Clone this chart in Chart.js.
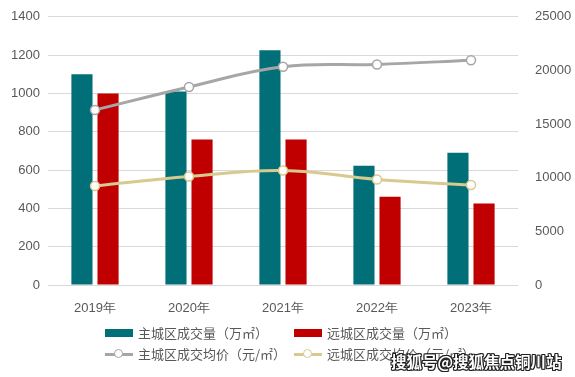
<!DOCTYPE html>
<html>
<head>
<meta charset="utf-8">
<script src="https://cdn.jsdelivr.net/npm/chart.js@4"></script>
<style>
  html,body{margin:0;padding:0;background:#fff;}
  #wrap{position:relative;width:575px;height:377px;font-family:"Microsoft YaHei","Noto Sans CJK SC",sans-serif;overflow:hidden;}
  #c{position:absolute;left:0;top:0;}
  .lg{position:absolute;font-size:13px;color:#595959;white-space:nowrap;line-height:16px;}
  .box{position:absolute;width:28px;height:8px;top:4px;left:0;}
  .ln{position:absolute;width:28px;height:3px;top:7px;left:0;}
  .dot{position:absolute;width:7px;height:7px;border-radius:50%;background:#fff;top:3px;left:9px;border:1.5px solid;}
  .lg span.t{position:absolute;left:33px;top:0;}
  #wm{position:absolute;left:391px;top:350px;font-size:15.5px;font-weight:bold;color:#fff;white-space:nowrap;
      text-shadow:-1px -1px 0 #222,1px -1px 0 #222,-1px 1px 0 #222,1px 1px 0 #222,0 1px 0 #222,0 -1px 0 #222,1px 0 0 #222,-1px 0 0 #222;}
</style>
</head>
<body>
<div id="wrap">
<canvas id="c" width="575" height="377"></canvas>
<div id="legend"></div>
<div id="wm">搜狐号@搜狐焦点铜川站</div>
</div>
<script>
// 数据
const years=['2019年','2020年','2021年','2022年','2023年'];
const mainVol=[1100,1010,1225,622,690];   // 主城区成交量（万㎡）
const farVol=[1000,760,760,461,425];      // 远城区成交量（万㎡）
const mainPrice=[16320,18460,20340,20560,20950]; // 主城区成交均价（元/㎡）
const farPrice=[9230,10120,10680,9840,9320];     // 远城区成交均价（元/㎡）

const C_MAIN='#006F77',C_FAR='#C00000',C_GRAY='#A6A6A6',C_GOLD='#D8C98E';

const tickFont={family:'"Liberation Sans",Arial,sans-serif',size:13};
const tickColor='#595959';
const plain=v=>String(v);

new Chart(document.getElementById('c'),{
  data:{
    labels:years,
    datasets:[
      {type:'line',label:'主城区成交均价（元/㎡）',data:mainPrice,yAxisID:'y2',order:0,
       borderColor:C_GRAY,borderWidth:3,tension:0.4,pointRadius:4.5,pointBorderWidth:1.5,
       pointBackgroundColor:'#fff',pointBorderColor:C_GRAY},
      {type:'line',label:'远城区成交均价（元/㎡）',data:farPrice,yAxisID:'y2',order:0,
       borderColor:C_GOLD,borderWidth:3,tension:0.4,pointRadius:4.5,pointBorderWidth:1.5,
       pointBackgroundColor:'#fff',pointBorderColor:C_GOLD},
      {type:'bar',label:'主城区成交量（万㎡）',data:mainVol,yAxisID:'y',order:1,
       backgroundColor:C_MAIN,categoryPercentage:0.555,barPercentage:0.81},
      {type:'bar',label:'远城区成交量（万㎡）',data:farVol,yAxisID:'y',order:1,
       backgroundColor:C_FAR,categoryPercentage:0.555,barPercentage:0.81}
    ]
  },
  options:{
    responsive:false,animation:false,
    layout:{padding:{top:5,left:0,right:0,bottom:0}},
    plugins:{legend:{display:false},tooltip:{enabled:false}},
    scales:{
      x:{grid:{display:false},border:{display:false},
         ticks:{font:tickFont,color:tickColor,padding:8},
         afterFit(s){s.height=92;}},
      y:{position:'left',min:0,max:1400,
         ticks:{stepSize:200,font:tickFont,color:tickColor,padding:8,callback:plain},
         grid:{color:'#D9D9D9',drawTicks:false},border:{display:false},
         afterFit(s){s.width=48;}},
      y2:{position:'right',min:0,max:25000,
          ticks:{stepSize:5000,font:tickFont,color:tickColor,padding:9,callback:plain},
          grid:{display:false},border:{display:false},
          afterFit(s){s.width=57;}}
    }
  }
});

// 图例（HTML）
const legendItems=[
  {x:105,y:325,kind:'box',color:C_MAIN,text:'主城区成交量（万㎡）'},
  {x:294,y:325,kind:'box',color:C_FAR,text:'远城区成交量（万㎡）'},
  {x:105,y:346,kind:'line',color:C_GRAY,text:'主城区成交均价（元/㎡）'},
  {x:294,y:346,kind:'line',color:C_GOLD,text:'远城区成交均价（元/㎡）'}
];
const lg=document.getElementById('legend');
legendItems.forEach(it=>{
  const d=document.createElement('div');
  d.className='lg';d.style.left=it.x+'px';d.style.top=it.y+'px';d.style.width='200px';d.style.height='16px';
  if(it.kind==='box'){
    d.innerHTML=`<span class="box" style="background:${it.color}"></span><span class="t">${it.text}</span>`;
  }else{
    d.innerHTML=`<span class="ln" style="background:${it.color}"></span><span class="dot" style="border-color:${it.color}"></span><span class="t">${it.text}</span>`;
  }
  lg.appendChild(d);
});
</script>
</body>
</html>
